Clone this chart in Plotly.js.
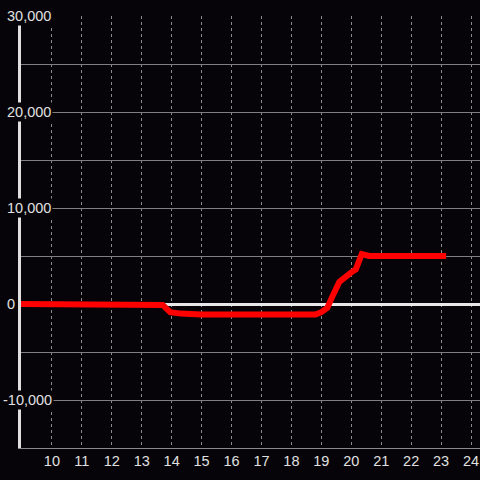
<!DOCTYPE html>
<html>
<head>
<meta charset="utf-8">
<script src="https://cdn.plot.ly/plotly-3.0.1.min.js"></script>
<style>html,body{margin:0;padding:0;background:#060408;}#chart{width:480px;height:480px;}</style>
</head>
<body>
<div id="chart"></div>
<script>
const xValues = [8.9, 10, 11, 12, 13, 13.5, 13.7, 13.95, 14.3, 15, 16, 17, 18, 18.8, 19.0, 19.2, 19.4, 19.6, 20.0, 20.15, 20.35, 20.6, 21, 22, 23.17];
const yValues = [0, 0, 0, 0, 0, 0, -100, -850, -1000, -1100, -1100, -1100, -1100, -1100, -850, -400, 1000, 2300, 3300, 3600, 5200, 5000, 5000, 5000, 5000];
const yTickVals = [30000, 20000, 10000, 0, -10000];
const yTickText = ['30,000', '20,000', '10,000', '0', '-10,000'];
const xTickVals = [10, 11, 12, 13, 14, 15, 16, 17, 18, 19, 20, 21, 22, 23, 24];

const bg = '#060408';
const textColor = '#e0e0e0';
const fontFamily = 'Liberation Sans, Arial, sans-serif';

const annotations = yTickVals.map((v, i) => ({
  xref: 'paper', yref: 'y', x: 0, y: v,
  text: yTickText[i], showarrow: false,
  xanchor: 'left', yanchor: 'middle',
  xshift: yTickText[i].startsWith('-') ? -20 : -16,
  bgcolor: bg, borderpad: 1,
  font: {family: fontFamily, size: 14.5, color: textColor}
}));

const trace = {
  x: xValues, y: yValues, type: 'scatter', mode: 'lines',
  line: {color: '#ff0000', width: 6},
  hoverinfo: 'skip'
};

const layout = {
  width: 480, height: 480,
  margin: {l: 21, r: 0, t: 16, b: 32},
  paper_bgcolor: bg, plot_bgcolor: bg,
  showlegend: false,
  font: {family: fontFamily, size: 14.5, color: textColor},
  xaxis: {
    range: [8.967, 24.3],
    tickvals: xTickVals,
    ticktext: xTickVals.map(String),
    showgrid: true, gridcolor: '#8a8a8a', griddash: 'dot', gridwidth: 1,
    zeroline: false,
    showline: true, linecolor: '#8a8a8a', linewidth: 1,
    ticks: '',
    tickfont: {family: fontFamily, size: 14.5, color: textColor}
  },
  yaxis: {
    range: [-15000, 30000],
    dtick: 5000, tick0: 0,
    showticklabels: false,
    showgrid: true, gridcolor: '#808080', gridwidth: 1,
    zeroline: true, zerolinecolor: '#e8e8e8', zerolinewidth: 3,
    showline: true, linecolor: '#e0e0e0', linewidth: 3,
    ticks: ''
  },
  annotations: annotations
};

Plotly.newPlot('chart', [trace], layout, {staticPlot: true, displayModeBar: false});
</script>
</body>
</html>
